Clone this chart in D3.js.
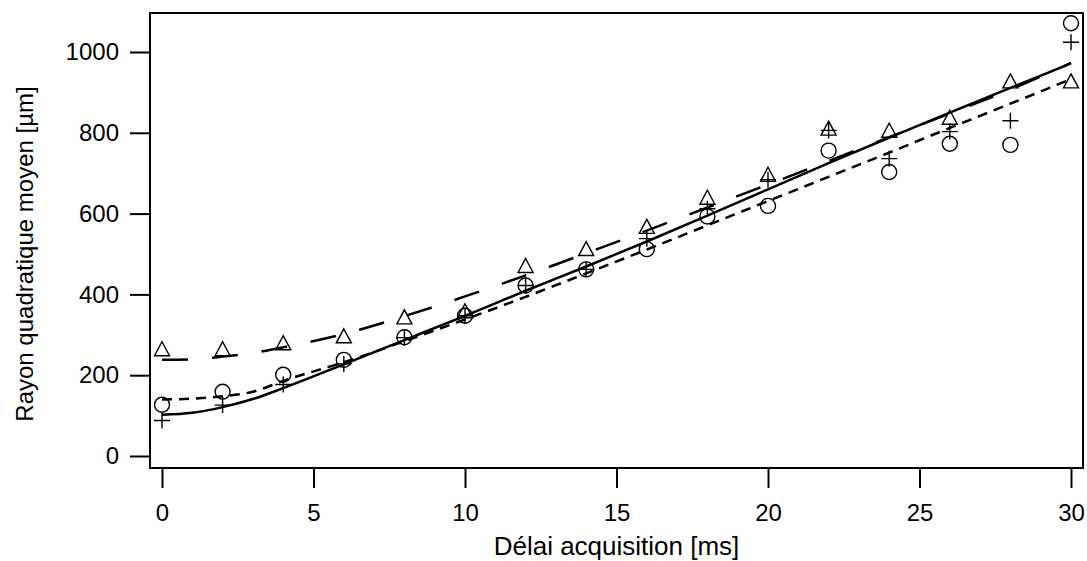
<!DOCTYPE html>
<html>
<head>
<meta charset="utf-8">
<script src="https://cdn.jsdelivr.net/npm/d3@7"></script>
<style>
  html, body { margin: 0; padding: 0; background: #fff; }
  svg { display: block; }
  text { font-family: "Liberation Sans", Arial, Helvetica, sans-serif; fill: #000; }
</style>
</head>
<body>
<svg id="chart" width="1087" height="561"></svg>
<script>
// ---- data ----
const times = [0, 2, 4, 6, 8, 10, 12, 14, 16, 18, 20, 22, 24, 26, 28, 30];
const circles   = [127, 159, 201, 238, 294, 347, 422, 462, 512, 593, 619, 756, 703, 773, 770, 1071];
const pluses    = [88, 126, 177, 228, 293, 347, 422, 462, 538, 612, 684, 806, 736, 803, 830, 1024];
const triangles = [263, 263, 278, 295, 342, 357, 469, 511, 566, 638, 695, 809, 804, 836, 926, 926];

const fitTimes  = [0, 1, 2, 3, 4, 6, 8, 10, 12, 14, 16, 18, 20, 22, 24, 26, 28, 30];
const fitSolid  = [102, 107, 121, 141, 168, 227, 287, 347, 409, 469, 531, 595, 660, 725, 788, 850, 911, 972];
const fitShort  = [140, 142, 148, 159, 186, 232, 284, 338, 394, 452, 511, 571, 631, 691, 751, 812, 872, 933];
const fitLong   = [238, 239, 246, 255, 269, 302, 346, 395, 447, 502, 558, 615, 672, 730, 789, 848, 907, 973];

const xTickValues = [0, 5, 10, 15, 20, 25, 30];
const yTickValues = [0, 200, 400, 600, 800, 1000];
const xTitle = "Délai acquisition [ms]";
const yTitle = "Rayon quadratique moyen [µm]";

// ---- layout ----
const box = { left: 150, right: 1083, top: 13, bottom: 468 };
const x = d3.scaleLinear().domain([0, 30]).range([162, 1071]);
const y = d3.scaleLinear().domain([0, 1000]).range([456, 52]);

const svg = d3.select("#chart");

// frame
svg.append("rect")
  .attr("x", box.left).attr("y", box.top)
  .attr("width", box.right - box.left).attr("height", box.bottom - box.top)
  .attr("fill", "none").attr("stroke", "#000").attr("stroke-width", 2);

// axes
const xAxis = svg.append("g")
  .attr("transform", `translate(0,${box.bottom})`)
  .call(d3.axisBottom(x).tickValues(xTickValues).tickSize(20).tickPadding(16).tickFormat(d3.format("d")));
const yAxis = svg.append("g")
  .attr("transform", `translate(${box.left},0)`)
  .call(d3.axisLeft(y).tickValues(yTickValues).tickSize(20).tickPadding(11).tickFormat(d3.format("d")));
[xAxis, yAxis].forEach(g => {
  g.select(".domain").remove();
  g.selectAll(".tick line").attr("stroke", "#000").attr("stroke-width", 2);
  g.selectAll(".tick text").attr("font-size", 24).attr("fill", "#000")
    .attr("font-family", "Liberation Sans, Arial, sans-serif");
});

// titles
svg.append("text")
  .attr("x", (x(0) + x(30)) / 2).attr("y", 555)
  .attr("text-anchor", "middle").attr("font-size", 26)
  .text(xTitle);
svg.append("text")
  .attr("transform", `translate(33,${(y(0) + y(1000)) / 2}) rotate(-90)`)
  .attr("text-anchor", "middle").attr("font-size", 24)
  .text(yTitle);

// fit curves
const line = (vals) => d3.line()
  .x((d, i) => x(fitTimes[i]))
  .y(d => y(d))
  .curve(d3.curveMonotoneX)(vals);

svg.append("path").attr("d", line(fitSolid))
  .attr("fill", "none").attr("stroke", "#000").attr("stroke-width", 2.5);
svg.append("path").attr("d", line(fitShort))
  .attr("fill", "none").attr("stroke", "#000").attr("stroke-width", 2.5)
  .attr("stroke-dasharray", "10,7");
svg.append("path").attr("d", line(fitLong))
  .attr("fill", "none").attr("stroke", "#000").attr("stroke-width", 2.5)
  .attr("stroke-dasharray", "26,24");

// markers
const mk = svg.append("g").attr("fill", "none").attr("stroke", "#000").attr("stroke-width", 1.4);

mk.selectAll("circle.c").data(circles).join("circle")
  .attr("class", "c")
  .attr("cx", (d, i) => x(times[i])).attr("cy", d => y(d)).attr("r", 7.5);

mk.selectAll("path.p").data(pluses).join("path")
  .attr("class", "p")
  .attr("transform", (d, i) => `translate(${x(times[i])},${y(d)})`)
  .attr("d", "M-8,0H8M0,-8V8");

mk.selectAll("path.t").data(triangles).join("path")
  .attr("class", "t")
  .attr("transform", (d, i) => `translate(${x(times[i])},${y(d)})`)
  .attr("d", "M0,-8L7.5,6L-7.5,6Z");
</script>
</body>
</html>
